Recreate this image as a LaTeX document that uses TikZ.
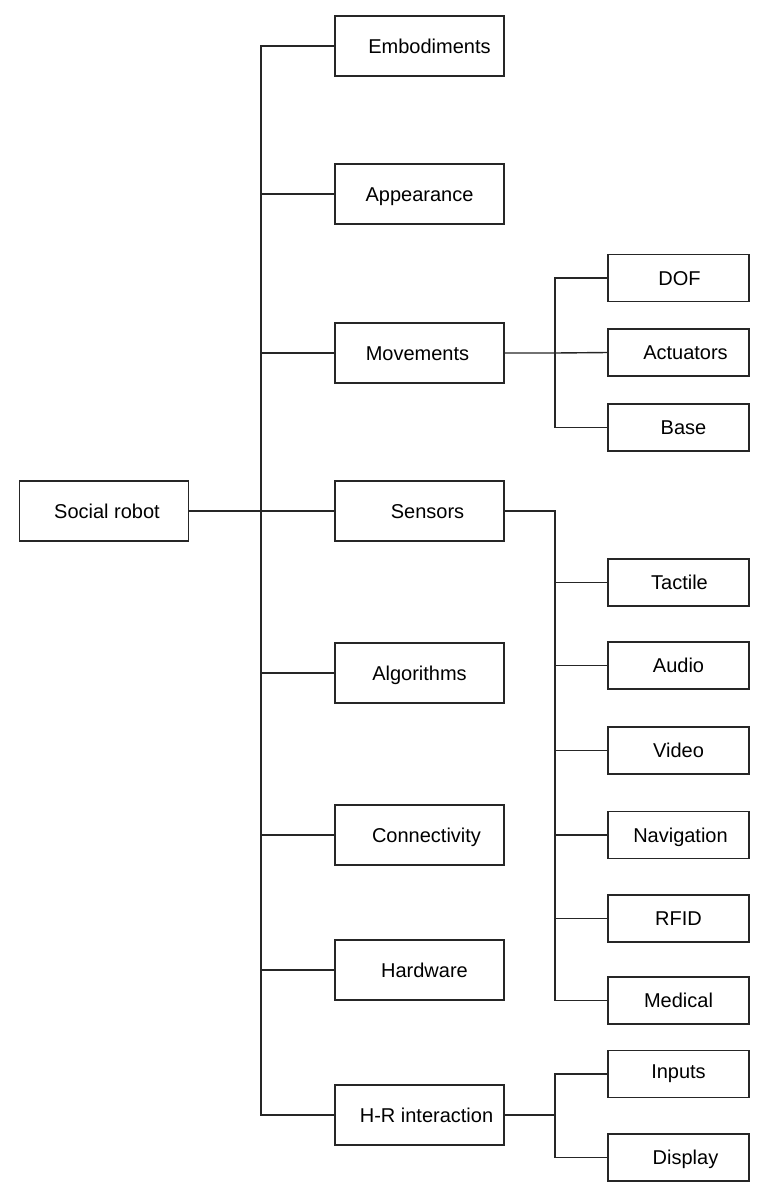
\documentclass[tikz,border=0pt]{standalone}
\usepackage{fontspec}
\setmainfont{Liberation Sans}
\begin{document}
\begin{tikzpicture}[x=1pt,y=-1pt,
  box/.style={draw=black!85,line width=1.4pt,inner sep=0pt,text height=14.3pt,text depth=0pt,font=\fontsize{20}{22}\selectfont},
  lone/.style={box,minimum width=169pt,minimum height=60pt},
  ltwo/.style={box,minimum width=141pt,minimum height=47pt},
  conn/.style={draw=black!85,line width=1.4pt}]
\useasboundingbox (0,0) rectangle (766,1195);
% root
\node[lone] (root) at (104,511) {\hspace*{6pt}Social robot};
% level 1
\node[lone] (emb) at (419.5,46) {\hspace*{20pt}Embodiments};
\node[lone] (app) at (419.5,194) {\hspace*{0pt}Appearance};
\node[lone] (mov) at (419.5,353) {\hspace*{-4pt}Movements};
\node[lone] (sens) at (419.5,511) {\hspace*{16pt}Sensors};
\node[lone] (alg) at (419.5,673) {Algorithms};
\node[lone] (con) at (419.5,835) {\hspace*{14pt}Connectivity};
\node[lone] (hw) at (419.5,970) {\hspace*{10pt}Hardware};
\node[lone] (hr) at (419.5,1115) {\hspace*{14pt}H-R interaction};
% level 2
\node[ltwo] (dof) at (678.5,278) {\hspace*{2pt}DOF};
\node[ltwo] (act) at (678.5,352.5) {\hspace*{14pt}Actuators};
\node[ltwo] (base) at (678.5,427.5) {\hspace*{10pt}Base};
\node[ltwo] (tac) at (678.5,582.5) {\hspace*{2pt}Tactile};
\node[ltwo] (aud) at (678.5,665.5) {Audio};
\node[ltwo] (vid) at (678.5,750.5) {Video};
\node[ltwo] (nav) at (678.5,835) {\hspace*{4pt}Navigation};
\node[ltwo] (rfid) at (678.5,918.5) {RFID};
\node[ltwo] (med) at (678.5,1000.5) {Medical};
\node[ltwo] (inp) at (678.5,1074) {\raisebox{3pt}{Inputs}};
\node[ltwo] (disp) at (678.5,1157.5) {\hspace*{14pt}Display};
% trunk coordinates
\coordinate (T) at (261,511);
\coordinate (M) at (555,353);
\coordinate (S) at (555,511);
\coordinate (H) at (555,1115);
% main trunk
\draw[conn] (root) -- (sens);
\draw[conn] (T) |- (emb.west);
\draw[conn] (T) |- (app.west);
\draw[conn] (T) |- (mov.west);
\draw[conn] (T) |- (alg.west);
\draw[conn] (T) |- (con.west);
\draw[conn] (T) |- (hw.west);
\draw[conn] (T) |- (hr.west);
% movements
\draw[conn] (mov.east) -- (M) -- (act.west);
\draw[conn] (M) |- (dof.west);
\draw[conn] (M) |- (base.west);
% sensors
\draw[conn] (sens.east) -- (S) |- (med.west);
\draw[conn] (S) |- (tac.west);
\draw[conn] (S) |- (aud.west);
\draw[conn] (S) |- (vid.west);
\draw[conn] (S) |- (nav.west);
\draw[conn] (S) |- (rfid.west);
% H-R interaction
\draw[conn] (hr.east) -- (H);
\draw[conn] (H) |- (inp.west);
\draw[conn] (H) |- (disp.west);
\end{tikzpicture}
\end{document}
